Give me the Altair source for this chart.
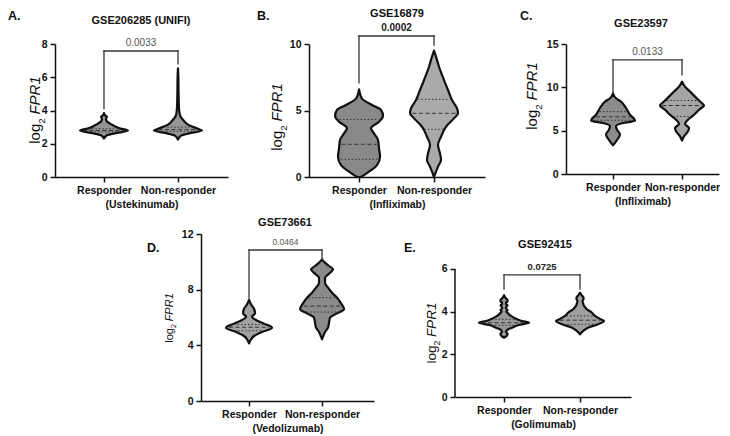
import altair as alt
import numpy as np
import pandas as pd

FONT = "Liberation Sans"

CATEGORIES = ["Responder", "Non-responder"]
LETTERS = ["A.", "B.", "C.", "D.", "E."]
DATASETS = ["GSE206285 (UNIFI)", "GSE16879", "GSE23597", "GSE73661", "GSE92415"]
DRUGS = ["(Ustekinumab)", "(Infliximab)", "(Infliximab)", "(Vedolizumab)", "(Golimumab)"]
Y_TICKS = [[0, 2, 4, 6, 8], [0, 5, 10], [0, 5, 10, 15], [0, 4, 8, 12], [0, 2, 4, 6]]
P_VALUES = ["0.0033", "0.0002", "0.0133", "0.0464", "0.0725"]
P_BOLD = [False, True, False, False, True]
BRACKET_TOP = [7.58, 10.6, 13.17, 10.85, 5.72]
BRACKET_LEFT = [4.12, 7.07, 9.28, 7.40, 5.06]
BRACKET_RIGHT = [6.8, 9.92, 11.45, 10.2, 5.06]

# violin outlines: log2 FPR1 value and half width
A_RESP_Y = [2.31, 2.51, 2.65, 2.79, 2.94, 3.15, 3.34, 3.5, 3.62, 3.72, 3.84]
A_RESP_W = [0, 3, 13, 24, 15, 8, 3, 2, 3, 1, 0]
A_NON_Y = [2.25, 2.49, 2.65, 2.79, 2.94, 3.15, 3.44, 3.64, 4.0, 4.5, 5.0, 5.5, 6.0, 6.53]
A_NON_W = [0, 3, 13, 24, 18, 10, 5, 2.5, 1.2, 0.8, 0.6, 0.5, 0.4, 0]

B_RESP_Y = [0, 0.4, 0.9, 1.53, 2.16, 2.78, 3.28, 3.66, 4.16, 4.59, 5.04, 5.41, 5.92, 6.59]
B_RESP_W = [2, 10, 18, 21, 20, 19, 15, 12, 20, 24, 22, 13, 2.7, 0]
B_NON_Y = [0, 0.78, 1.28, 1.78, 2.41, 3.03, 3.78, 4.41, 4.79, 5.16, 5.79, 6.54, 7.29, 8.29, 9.05, 9.5]
B_NON_W = [0, 4, 7, 6, 4, 7, 12, 20, 24, 23, 18, 14, 10, 5, 2, 0]

C_RESP_Y = [3.32, 3.59, 4.09, 4.55, 5.12, 5.5, 5.88, 6.15, 6.38, 6.84, 7.22, 7.79, 8.36, 8.74, 9.31]
C_RESP_W = [0, 2, 5, 7, 4, 3, 10, 22, 21, 17, 15, 12, 8, 3, 0]
C_NON_Y = [3.86, 4.35, 4.93, 5.3, 5.77, 6.27, 6.84, 7.41, 7.9, 8.36, 8.93, 9.51, 10.08, 10.65]
C_NON_W = [0, 2, 6, 7, 3, 6, 12, 17, 22, 18, 13, 8, 3, 0]

D_RESP_Y = [4.14, 4.31, 4.67, 4.96, 5.27, 5.56, 5.82, 6.06, 6.3, 6.63, 6.94, 7.26]
D_RESP_W = [0, 1, 5, 13, 23, 15, 7, 3, 6, 5, 2, 0]
D_NON_Y = [4.43, 4.62, 4.96, 5.27, 5.63, 5.99, 6.3, 6.59, 7.02, 7.42, 7.78, 8.14, 8.5, 8.86,
           9.15, 9.46, 9.7, 9.94, 10.18]
D_NON_W = [0, 1, 3, 6, 7, 8, 15, 22, 19, 15, 10, 6, 3, 3, 7, 11, 7, 3, 0]

E_RESP_Y = [2.78, 2.88, 2.98, 3.06, 3.14, 3.25, 3.38, 3.48, 3.56, 3.67, 3.8, 3.92, 4.0, 4.08,
            4.16, 4.22, 4.3, 4.36, 4.42, 4.48, 4.55, 4.62, 4.77]
E_RESP_W = [0, 3, 3.5, 2, 3, 8, 15, 25, 18, 12, 7, 4, 2.5, 3.5, 2, 2, 3.5, 2, 2, 3.5, 3.5, 2, 0]
E_NON_Y = [2.94, 3.09, 3.25, 3.41, 3.56, 3.64, 3.8, 3.95, 4.11, 4.27, 4.4, 4.5, 4.58, 4.66, 4.75, 4.89]
E_NON_W = [0, 3, 8, 18, 24, 21, 15, 12, 7, 4, 3, 2.5, 3.5, 3.5, 2, 0]

# quartiles [Q1, median, Q3]
A_Q = [[2.72, 2.8, 2.9], [2.75, 2.85, 3.0]]
B_Q = [[1.33, 2.46, 4.33], [3.59, 4.79, 5.84]]
C_Q = [[6.2, 6.6, 7.2], [6.64, 7.9, 8.48]]
D_Q = [[5.05, 5.3, 5.5], [6.39, 6.82, 7.42]]
E_Q = [[3.36, 3.48, 3.64], [3.41, 3.6, 3.8]]

PROFILES = [
    [(A_RESP_Y, A_RESP_W), (A_NON_Y, A_NON_W)],
    [(B_RESP_Y, B_RESP_W), (B_NON_Y, B_NON_W)],
    [(C_RESP_Y, C_RESP_W), (C_NON_Y, C_NON_W)],
    [(D_RESP_Y, D_RESP_W), (D_NON_Y, D_NON_W)],
    [(E_RESP_Y, E_RESP_W), (E_NON_Y, E_NON_W)],
]
QUARTILES = [A_Q, B_Q, C_Q, D_Q, E_Q]

# layout / style per panel
LAYOUT = [
    dict(w=173, h=133, x0=0.338, x1=2.676, ymax=8.0, yt=(15, -15, 66), title=(86, -20),
         letter=(-47, -24), fills=("#959595", "#959595"), pf=10),
    dict(w=176, h=133, x0=0.333, x1=2.68, ymax=10.0, yt=(15, -27, 73), title=(88, -27),
         letter=(-52, -24), fills=("#898989", "#aaaaaa"), pf=10),
    dict(w=153, h=130, x0=0.319, x1=2.536, ymax=15.0, yt=(15, -29, 52), title=(75, -17),
         letter=(-46, -24), fills=("#8c8c8c", "#a5a5a5"), pf=10),
    dict(w=173, h=167, x0=0.342, x1=2.712, ymax=12.0, yt=(11, -28, 84), title=(84, -8),
         letter=(-54, 18), fills=("#a2a2a2", "#8b8b8b"), pf=8.5),
    dict(w=176, h=163, x0=0.355, x1=2.671, ymax=7.64, yt=(13.5, -19, 99), title=(90, 14),
         letter=(-51, 18), fills=("#989898", "#a0a0a0"), pf=9.5, split=True),
]


def text(t, x, y, size, weight="normal", style="normal", angle=0, align="center", color="#111"):
    return alt.Chart(pd.DataFrame({"t": [t]})).mark_text(
        font=FONT, fontSize=size, fontWeight=weight, fontStyle=style, angle=angle,
        align=align, baseline="alphabetic", color=color,
    ).encode(x=alt.value(x), y=alt.value(y), text="t:N")


def ytitle(f, bx, cy):
    wlog = 1.334 * f
    w2 = 0.556 * 0.65 * f
    gap = 0.25 * f
    wf = 2.556 * f
    y0 = cy + (wlog + w2 + gap + wf) / 2
    return [
        text("log", bx, y0, f, angle=270, align="left"),
        text("2", bx + 0.3 * f, y0 - wlog, 0.65 * f, angle=270, align="left"),
        text("FPR1", bx, y0 - wlog - w2 - gap, f, style="italic", angle=270, align="left"),
    ]


def panel(i):
    L = LAYOUT[i]
    W, H = L["w"], L["h"]
    ppu = W / (L["x1"] - L["x0"])
    xs = alt.Scale(domain=[L["x0"], L["x1"]], nice=False, zero=False)
    ys = alt.Scale(domain=[0, L["ymax"]], nice=False, zero=False)
    label_expr = f"datum.value == 1 ? '{CATEGORIES[0]}' : '{CATEGORIES[1]}'"
    xaxis = alt.Axis(values=[1, 2], labelExpr=label_expr, title=DRUGS[i],
                     labelOverlap=False, labelFlush=False)
    yaxis = alt.Axis(values=Y_TICKS[i], title=None, domain=not L.get("split", False),
                     labelOverlap=False, labelFlush=False)

    def X(f):
        return alt.X(f, scale=xs, axis=xaxis)

    def Y(f):
        return alt.Y(f, scale=ys, axis=yaxis)

    layers = []
    for gi in range(2):
        yv, wv = PROFILES[i][gi]
        c = gi + 1
        df = pd.DataFrame({"y": yv, "lo": [c - w / ppu for w in wv], "hi": [c + w / ppu for w in wv]})
        layers.append(
            alt.Chart(df).mark_area(
                orient="horizontal", interpolate="monotone", fill=L["fills"][gi],
                stroke="#111", strokeWidth=2.2, strokeJoin="round",
            ).encode(
                y=Y("y:Q"),
                x=alt.X("lo:Q", scale=xs, axis=xaxis, stack=None),
                x2=alt.X2("hi:Q"),
            )
        )
    med_rows, q_rows = [], []
    for gi in range(2):
        yv, wv = PROFILES[i][gi]
        q1, med, q3 = QUARTILES[i][gi]
        for q, target in ((q1, q_rows), (med, med_rows), (q3, q_rows)):
            hw = float(np.interp(q, yv, wv)) * 0.9 / ppu
            target.append({"y": q, "lo": gi + 1 - hw, "hi": gi + 1 + hw})
    for rows, dash in ((q_rows, [1.5, 2]), (med_rows, [4, 2.5])):
        layers.append(
            alt.Chart(pd.DataFrame(rows)).mark_rule(color="#333", strokeWidth=1, strokeDash=dash).encode(
                y=Y("y:Q"), x=X("lo:Q"), x2="hi:Q",
            )
        )
    bh = pd.DataFrame({"lo": [1], "hi": [2], "y": [BRACKET_TOP[i]]})
    bv = pd.DataFrame({"lo": [1, 2], "y": [BRACKET_TOP[i]] * 2, "y2": [BRACKET_LEFT[i], BRACKET_RIGHT[i]]})
    layers.append(
        alt.Chart(bh).mark_rule(color="#333", strokeWidth=1.3, strokeCap="square").encode(
            x=X("lo:Q"), x2="hi:Q", y=Y("y:Q")
        )
    )
    layers.append(
        alt.Chart(bv).mark_rule(color="#333", strokeWidth=1.3, strokeCap="square").encode(
            x=X("lo:Q"), y=Y("y:Q"), y2="y2:Q"
        )
    )
    pt = pd.DataFrame({"lo": [1.5], "y": [BRACKET_TOP[i]], "t": [P_VALUES[i]]})
    layers.append(
        alt.Chart(pt).mark_text(
            font=FONT, fontSize=L["pf"], fontWeight="bold" if P_BOLD[i] else "normal",
            color="#222" if P_BOLD[i] else "#555", dy=-5, baseline="alphabetic",
        ).encode(x=X("lo:Q"), y=Y("y:Q"), text="t:N")
    )
    if L.get("split"):
        ad = pd.DataFrame({"y": [Y_TICKS[i][0]], "y2": [Y_TICKS[i][-1]]})
        layers.append(
            alt.Chart(ad).mark_rule(color="#111", strokeWidth=1.5).encode(
                x=alt.value(0), y=Y("y:Q"), y2="y2:Q"
            )
        )
    tx, ty = L["title"]
    layers.append(text(DATASETS[i], tx, ty, 11, weight="bold"))
    lx, ly = L["letter"]
    layers.append(text(LETTERS[i], lx, ly, 12.5, weight="bold", align="left"))
    layers += ytitle(*L["yt"])
    return alt.layer(*layers).properties(width=W, height=H)


spacer = alt.Chart(pd.DataFrame({"t": [""]})).mark_text().encode(
    text="t:N", x=alt.value(0), y=alt.value(0)
).properties(width=65, height=20)

top_row = alt.hconcat(panel(0), panel(1), panel(2), spacing=81, bounds="flush")
bottom_row = alt.hconcat(spacer, panel(3), panel(4), spacing=81, bounds="flush")

chart = alt.vconcat(top_row, bottom_row, spacing=7).properties(padding=0).configure_view(
    stroke=None
).configure_axis(
    labelFont=FONT, labelFontSize=10.5, labelFontWeight="bold", labelColor="#111",
    titleFont=FONT, titleFontSize=10.5, titleFontWeight="bold", titleColor="#111",
    domainColor="#111", domainWidth=1.5, tickColor="#111", tickWidth=1.5, tickSize=5,
    labelPadding=3, titlePadding=4, grid=False,
)

chart.save("out.html", embed_options={"renderer": "svg", "actions": False})
